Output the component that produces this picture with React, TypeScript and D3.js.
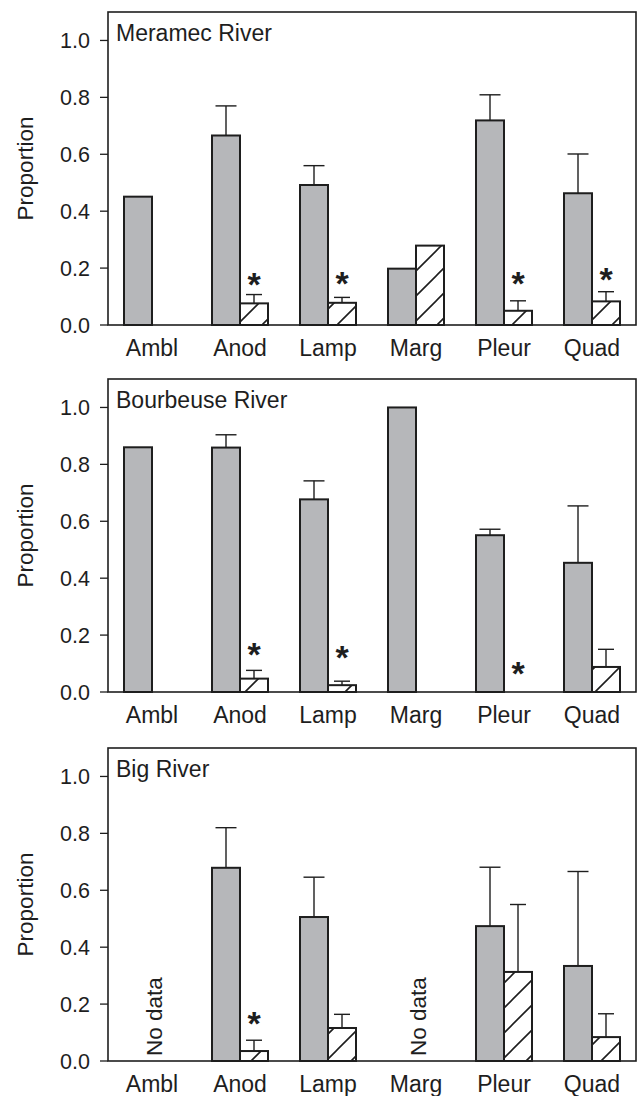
import React from "react";
import * as d3 from "d3";

const categories = ["Ambl", "Anod", "Lamp", "Marg", "Pleur", "Quad"];
const rivers = ["Meramec River", "Bourbeuse River", "Big River"];
const yTicks = [0, 0.2, 0.4, 0.6, 0.8, 1.0];

// Meramec River
const grayMeramec = [0.451, 0.666, 0.492, 0.198, 0.719, 0.463];
const grayErrMeramec = [null, 0.77, 0.56, null, 0.809, 0.601];
const hatchMeramec = [null, 0.076, 0.078, 0.279, 0.05, 0.083];
const hatchErrMeramec = [null, 0.107, 0.097, null, 0.085, 0.117];
const starMeramec = [null, 0.162, 0.165, null, 0.165, 0.18];
const noDataMeramec = [false, false, false, false, false, false];

// Bourbeuse River
const grayBourbeuse = [0.86, 0.859, 0.677, 1.0, 0.551, 0.454];
const grayErrBourbeuse = [null, 0.904, 0.742, null, 0.572, 0.654];
const hatchBourbeuse = [null, 0.047, 0.024, null, null, 0.088];
const hatchErrBourbeuse = [null, 0.076, 0.038, null, null, 0.15];
const starBourbeuse = [null, 0.15, 0.14, null, 0.083, null];
const noDataBourbeuse = [false, false, false, false, false, false];

// Big River
const grayBig = [null, 0.679, 0.506, null, 0.474, 0.334];
const grayErrBig = [null, 0.82, 0.646, null, 0.681, 0.666];
const hatchBig = [null, 0.035, 0.116, null, 0.313, 0.084];
const hatchErrBig = [null, 0.073, 0.164, null, 0.55, 0.166];
const starBig = [null, 0.152, null, null, null, null];
const noDataBig = [true, false, false, true, false, false];

const panels = [
  { title: rivers[0], gray: grayMeramec, grayErr: grayErrMeramec, hatch: hatchMeramec, hatchErr: hatchErrMeramec, star: starMeramec, noData: noDataMeramec },
  { title: rivers[1], gray: grayBourbeuse, grayErr: grayErrBourbeuse, hatch: hatchBourbeuse, hatchErr: hatchErrBourbeuse, star: starBourbeuse, noData: noDataBourbeuse },
  { title: rivers[2], gray: grayBig, grayErr: grayErrBig, hatch: hatchBig, hatchErr: hatchErrBig, star: starBig, noData: noDataBig },
];

const W = 637;
const H = 1096;
const LEFT = 108;
const RIGHT = 636;
const PANEL_H = 313;
const TOPS = [12, 379, 748];
const BAR_W = 28;
const FONT = "'Liberation Sans', Arial, Helvetica, sans-serif";
const INK = "#1e1e1e";
const GRAY = "#b6b7ba";

export default function App() {
  const x = d3.scaleBand<string>().domain(categories).range([LEFT, RIGHT]).padding(0);
  const cx = (c: string) => (x(c) as number) + x.bandwidth() / 2;
  const fmt = d3.format(".1f");

  return (
    <svg
      width={W}
      height={H}
      viewBox={`0 0 ${W} ${H}`}
      style={{ position: "absolute", left: 0, top: 0, background: "#fff" }}
    >
      <defs>
        <pattern id="hatch" patternUnits="userSpaceOnUse" width={25} height={25} x={12} y={0}>
          <rect width={25} height={25} fill="#fff" />
          <path d="M0,25 L25,0 M-5,5 L5,-5 M20,30 L30,20" stroke={INK} strokeWidth={1.6} />
        </pattern>
      </defs>
      {panels.map((p, pi) => {
        const top = TOPS[pi];
        const y = d3.scaleLinear().domain([0, 1.1]).range([top + PANEL_H, top]);
        const y0 = y(0);
        return (
          <g key={pi}>
            {yTicks.map((t) => (
              <g key={t}>
                <line x1={LEFT - 8} x2={LEFT} y1={y(t)} y2={y(t)} stroke={INK} strokeWidth={1.3} />
                <text
                  x={LEFT - 18}
                  y={y(t) + 1}
                  textAnchor="end"
                  dominantBaseline="central"
                  fontFamily={FONT}
                  fontSize={21.5}
                  fill={INK}
                >
                  {fmt(t)}
                </text>
              </g>
            ))}
            <text
              transform={`translate(33,${top + PANEL_H / 2}) rotate(-90)`}
              textAnchor="middle"
              fontFamily={FONT}
              fontSize={22.5}
              fill={INK}
            >
              Proportion
            </text>
            <text x={LEFT + 8} y={top + 29} fontFamily={FONT} fontSize={23} fill={INK}>
              {p.title}
            </text>
            {categories.map((c, i) => {
              const xc = cx(c);
              const g = p.gray[i];
              const ge = p.grayErr[i];
              const h = p.hatch[i];
              const he = p.hatchErr[i];
              const s = p.star[i];
              return (
                <g key={c}>
                  {g != null && (
                    <rect
                      x={xc - BAR_W}
                      y={y(g)}
                      width={BAR_W}
                      height={y0 - y(g)}
                      fill={GRAY}
                      stroke={INK}
                      strokeWidth={2}
                    />
                  )}
                  {g != null && ge != null && (
                    <g stroke={INK} strokeWidth={1.4}>
                      <line x1={xc - BAR_W / 2} x2={xc - BAR_W / 2} y1={y(g)} y2={y(ge)} />
                      <line x1={xc - BAR_W / 2 - 10.5} x2={xc - BAR_W / 2 + 10.5} y1={y(ge)} y2={y(ge)} />
                    </g>
                  )}
                  {h != null && (
                    <rect
                      x={xc}
                      y={y(h)}
                      width={BAR_W}
                      height={y0 - y(h)}
                      fill="url(#hatch)"
                      stroke={INK}
                      strokeWidth={2}
                    />
                  )}
                  {h != null && he != null && (
                    <g stroke={INK} strokeWidth={1.4}>
                      <line x1={xc + BAR_W / 2} x2={xc + BAR_W / 2} y1={y(h)} y2={y(he)} />
                      <line x1={xc + BAR_W / 2 - 8} x2={xc + BAR_W / 2 + 8} y1={y(he)} y2={y(he)} />
                    </g>
                  )}
                  {s != null && (
                    <text
                      x={xc + BAR_W / 2}
                      y={y(s) + 17}
                      textAnchor="middle"
                      fontFamily={FONT}
                      fontSize={34}
                      fontWeight="bold"
                      fill={INK}
                    >
                      *
                    </text>
                  )}
                  {p.noData[i] && (
                    <text
                      transform={`translate(${xc + 2},${y0 - 5}) rotate(-90)`}
                      textAnchor="start"
                      dominantBaseline="central"
                      fontFamily={FONT}
                      fontSize={22.5}
                      fill={INK}
                    >
                      No data
                    </text>
                  )}
                  <text
                    x={xc}
                    y={y0 + 31}
                    textAnchor="middle"
                    fontFamily={FONT}
                    fontSize={23}
                    fill={INK}
                  >
                    {c}
                  </text>
                </g>
              );
            })}
            <rect
              x={LEFT}
              y={top}
              width={RIGHT - LEFT}
              height={PANEL_H}
              fill="none"
              stroke={INK}
              strokeWidth={1.6}
            />
          </g>
        );
      })}
    </svg>
  );
}
